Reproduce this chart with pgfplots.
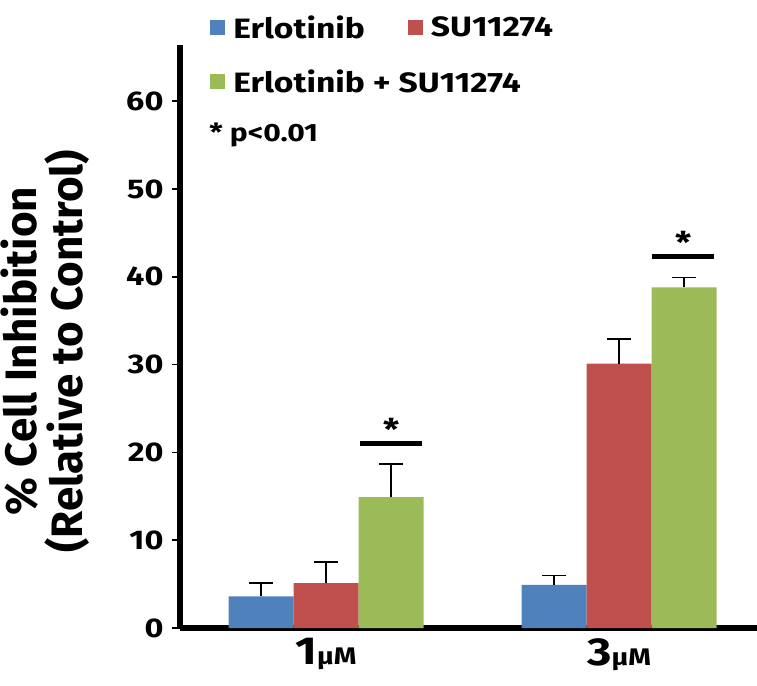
\documentclass[border=0pt]{standalone}
\usepackage{fontspec}
\setmainfont{Fira Sans}[FakeStretch=1.2]
\newfontfamily\ylabfont{Fira Sans}
\usepackage{pgfplots}
\pgfplotsset{compat=1.18}

\definecolor{erlo}{HTML}{4F81BD}
\definecolor{su}{HTML}{C0504D}
\definecolor{combo}{HTML}{9BBB59}

\begin{document}
\begin{tikzpicture}[x=1pt,y=1pt]
\useasboundingbox (0,0) rectangle (757,685);
\begin{axis}[
    at={(180pt,57pt)}, anchor=south west,
    scale only axis,
    width=577pt, height=583pt,
    ymin=0, ymax=66.4,
    xmin=-0.498, xmax=1.47,
    ybar=0pt, bar width=65pt,
    axis x line=bottom, axis y line=left,
    axis line style={line width=6pt, -},
    ytick={0,10,...,60},
    ytick align=outside,
    ytick style={line width=1.5pt, black},
    major tick length=8pt,
    xtick={0,1},
    xtick style={draw=none},
    xticklabels={{\fontsize{39}{39}\selectfont 1\fontsize{24}{24}\selectfont μM},
                 {\fontsize{39}{39}\selectfont 3\fontsize{24}{24}\selectfont μM}},
    /pgf/number format/assume math mode=true,
    yticklabel style={font=\bfseries\fontsize{27}{27}\selectfont, xshift=-5pt},
    xticklabel style={font=\bfseries, yshift=-3pt},
    ylabel={\% Cell Inhibition\\(Relative to Control)},
    ylabel style={align=center, font=\ylabfont\bfseries\fontsize{44}{46}\selectfont,
                  at={(axis description cs:-0.233,0.475)}, anchor=center},
    legend columns=2,
    legend cell align=left,
    legend style={draw=none, fill=none, at={(axis description cs:0.047,1.058)},
                  anchor=north west, font=\bfseries\fontsize{28}{32}\selectfont,
                  row sep=26pt,
                  /tikz/every even column/.append style={column sep=41pt}},
    error bars/y dir=plus,
    error bars/y explicit,
    error bars/error bar style={line width=1.5pt, black},
    error bars/error mark options={rotate=90, mark size=12pt, line width=1.5pt, black},
]
\addplot[fill=erlo, draw=none,
    legend image code/.code={\fill[erlo] (0pt,-7.5pt) rectangle (15pt,7.5pt); \path (21pt,0pt);}]
    coordinates {(0,3.6) +- (0,1.5) (1,4.9) +- (0,1.1)};
\addplot[fill=su, draw=none,
    legend image code/.code={\fill[su] (0pt,-7.5pt) rectangle (15pt,7.5pt); \path (21pt,0pt);}]
    coordinates {(0,5.1) +- (0,2.4) (1,30.1) +- (0,2.8)};
\addplot[fill=combo, draw=none,
    legend image code/.code={\fill[combo] (0pt,-7.5pt) rectangle (15pt,7.5pt); \path (21pt,0pt);}]
    coordinates {(0,14.9) +- (0,3.8) (1,38.8) +- (0,1.1)};
\legend{Erlotinib, SU11274, \makebox[0pt][l]{Erlotinib + SU11274}}

% significance markers
\draw[line width=5pt] (axis cs:0.116,21.0) -- (axis cs:0.328,21.0);
\node[font=\bfseries\fontsize{30}{30}\selectfont] at (axis cs:0.222,22.6) {*};
\draw[line width=5pt] (axis cs:1.113,42.3) -- (axis cs:1.324,42.3);
\node[font=\bfseries\fontsize{30}{30}\selectfont] at (axis cs:1.218,43.9) {*};
\node[font=\bfseries\fontsize{25}{25}\selectfont, anchor=west] at (axis cs:-0.41,56.2) {* p<0.01};
\end{axis}
\end{tikzpicture}
\end{document}
